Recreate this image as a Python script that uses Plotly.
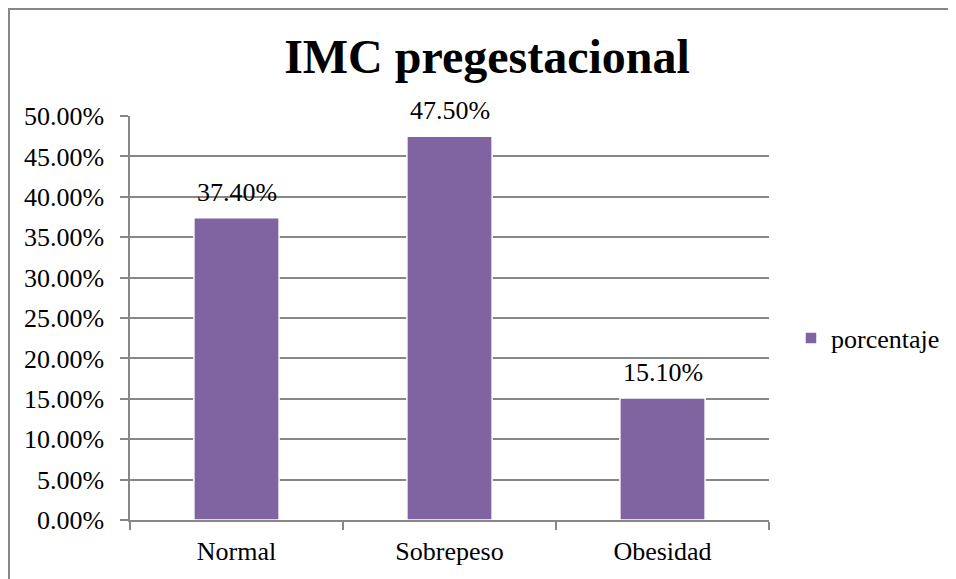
import plotly.graph_objects as go

categories = ["Normal", "Sobrepeso", "Obesidad"]
values = [0.374, 0.475, 0.151]
value_labels = ["37.40%", "47.50%", "15.10%"]
series_name = "porcentaje"
title_text = "IMC pregestacional"

# page body has an 8px margin, so the figure is drawn 8px in and sized to fit
W, H = 948, 571
L, R, T, B = 122, 187, 108, 59
pw, ph = W - L - R, H - T - B

FONT = "Liberation Serif"
GRID = "#878787"
PURPLE = "#8064A2"
FS = 26

fig = go.Figure()
fig.add_trace(go.Bar(
    x=categories, y=values, name=series_name,
    marker=dict(color=PURPLE, line=dict(color="white", width=1.5)),
    showlegend=True,
))

annotations = []
for c, v, t in zip(categories, values, value_labels):
    annotations.append(dict(
        x=c, y=v, xref="x", yref="y", text=t, showarrow=False,
        yanchor="bottom", yshift=9,
        font=dict(family=FONT, size=FS, color="black"),
    ))

fig.update_layout(
    width=W, height=H,
    margin=dict(l=L, r=R, t=T, b=B, autoexpand=False),
    paper_bgcolor="white", plot_bgcolor="white",
    font=dict(family=FONT, size=FS, color="black"),
    title=dict(text="<b>" + title_text + "</b>", x=479 / W, xref="container", xanchor="center",
               y=1 - 48 / H, yref="container", yanchor="middle",
               font=dict(family=FONT, size=48, color="black")),
    bargap=0.6,
    showlegend=True,
    legend=dict(x=(783 - L) / pw, xanchor="left", y=(H - B - 330) / ph, yanchor="middle",
                font=dict(family=FONT, size=FS, color="black"),
                bgcolor="rgba(0,0,0,0)", borderwidth=0),
    annotations=annotations,
    shapes=[dict(type="rect", xref="paper", yref="paper",
                 x0=(1 - L) / pw, x1=1 + 300 / pw,
                 y0=-300 / ph, y1=1 + (T - 1) / ph,
                 line=dict(color="#878787", width=2), layer="below")],
)

fig.update_yaxes(
    range=[0, 0.5], dtick=0.05, tickformat=".2%",
    showgrid=True, gridcolor=GRID, gridwidth=1.5,
    showline=True, linecolor=GRID, linewidth=1.5,
    ticks="outside", ticklen=8, tickcolor=GRID, tickwidth=1.5,
    ticklabelstandoff=11, zeroline=False,
    tickfont=dict(family=FONT, size=FS, color="black"),
)
fig.update_xaxes(
    showline=True, linecolor=GRID, linewidth=1.5,
    ticks="outside", ticklen=8, tickcolor=GRID, tickwidth=1.5,
    tickson="boundaries", ticklabelstandoff=7,
    tickfont=dict(family=FONT, size=FS, color="black"),
)

fig.write_html("out.html")
